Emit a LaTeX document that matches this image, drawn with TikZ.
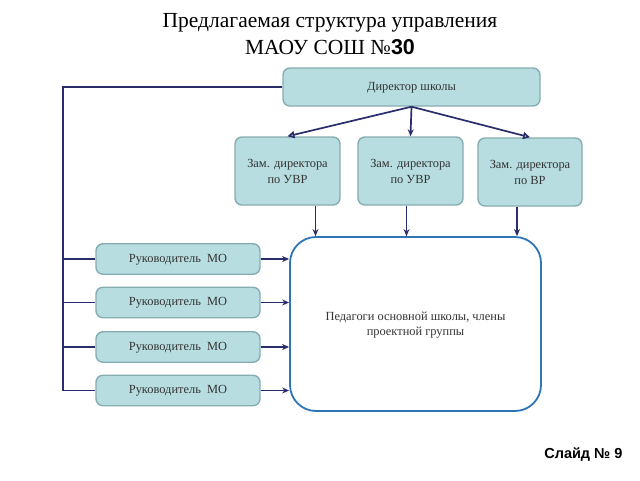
\documentclass[tikz,border=0pt]{standalone}
\usepackage{fontspec}
\setmainfont{Liberation Serif}
\newfontfamily\slidesans{Liberation Sans}
\usetikzlibrary{arrows.meta}
\definecolor{boxfill}{HTML}{B7DDE1}
\definecolor{boxline}{HTML}{86ADB1}
\definecolor{navy}{HTML}{2A2D6B}
\definecolor{pedline}{HTML}{2E75B6}
\definecolor{boxtext}{HTML}{333333}
\tikzset{
  unit/.style={draw=boxline, fill=boxfill, line width=1.4pt, rounded corners=7pt,
    text=boxtext, font=\fontsize{12.4}{16}\selectfont, align=center, inner sep=0pt},
  oneline/.style={text height=0.66em, text depth=0pt},
  link/.style={navy, line width=1.7pt},
  arr/.style={link, -{Stealth[length=7pt, width=6pt]}},
  arrop/.style={link, -{Triangle[open, length=7pt, width=7pt]}}
}

\begin{document}
\begin{tikzpicture}[x=1pt, y=-1pt]
\useasboundingbox (0,0) rectangle (640,480);
% title
\node (title) at (330,34) [align=center, font=\fontsize{21.5}{27}\selectfont]
  {Предлагаемая структура управления\\МАОУ СОШ №{\slidesans\bfseries 30}};
% boxes
\node[unit, oneline, minimum width=257pt, minimum height=38pt] (dir) at (411.5,87) {Директор школы};
\node[unit, minimum width=105pt, minimum height=68pt] (zam1) at (287.5,171) {Зам. директора\\по УВР};
\node[unit, minimum width=105pt, minimum height=68pt] (zam2) at (410.5,171) {Зам. директора\\по УВР};
\node[unit, minimum width=104pt, minimum height=68pt] (zam3) at (530,172) {Зам. директора\\по ВР};
\node[draw=pedline, fill=white, line width=1.8pt, rounded corners=26pt,
  minimum width=251pt, minimum height=174pt, align=center, text=boxtext,
  font=\fontsize{12.4}{15}\selectfont, text depth=0pt] (ped) at (415.5,324)
  {Педагоги основной школы, члены\\проектной группы};
\foreach \i/\y in {1/259, 2/302.5, 3/347, 4/390.5} {
  \node[unit, oneline, minimum width=164pt, minimum height=30.5pt] (mo\i) at (178,\y) {Руководитель\ \ МО};
  \draw[arr] (mo\i.east) -- (mo\i.east -| ped.west);
}
% trunk on the left
\coordinate (trunktop) at (63,87);
\coordinate (trunkbot) at (63,391);
\draw[link] (dir.west) -- (trunktop) -- (trunkbot);
\foreach \i in {1,2,3,4} {
  \draw[link] (trunktop |- mo\i.west) -- (mo\i.west);
}
% director to deputies
\draw[arrop] (dir.south) -- (zam1.north);
\draw[arr] (dir.south) -- (zam2.north);
\draw[arrop] (dir.south) -- (zam3.north);
% deputies to teachers
\draw[arr] ([xshift=28pt]zam1.south) -- ([xshift=28pt]zam1.south |- ped.north);
\draw[arr] ([xshift=-4pt]zam2.south) -- ([xshift=-4pt]zam2.south |- ped.north);
\draw[arr] ([xshift=-13pt]zam3.south) -- ([xshift=-13pt]zam3.south |- ped.north);
\node[anchor=east, font=\slidesans\bfseries\fontsize{14.5}{17}\selectfont] (slide) at (626,455) {Слайд № 9};
\end{tikzpicture}
\end{document}
